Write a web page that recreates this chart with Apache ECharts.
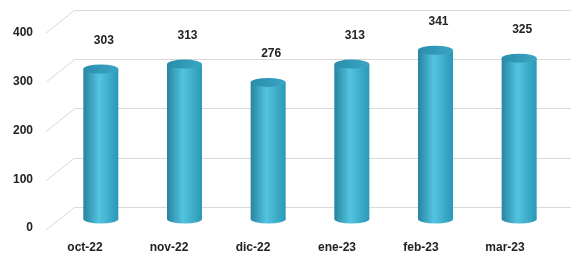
<!DOCTYPE html>
<html>
<head>
<meta charset="utf-8">
<script src="https://cdn.jsdelivr.net/npm/echarts@6/dist/echarts.min.js"></script>
<style>
  html, body { margin: 0; padding: 0; background: #fff; }
  #chart { width: 571px; height: 258px; }
</style>
</head>
<body>
<div id="chart"></div>
<script>
var months = ['oct-22', 'nov-22', 'dic-22', 'ene-23', 'feb-23', 'mar-23'];
var totals = [303, 313, 276, 313, 341, 325];
var yTicks = [0, 100, 200, 300, 400];

var chart = echarts.init(document.getElementById('chart'));

var bodyColor = new echarts.graphic.LinearGradient(0, 0, 1, 0, [
  { offset: 0, color: '#2784a0' },
  { offset: 0.45, color: '#53c4e0' },
  { offset: 1, color: '#2a98b6' }
]);
var topColor = new echarts.graphic.LinearGradient(0, 0, 1, 0, [
  { offset: 0, color: '#2a8cab' },
  { offset: 1, color: '#3aa6c4' }
]);
var labelFont = {
  fontFamily: 'Liberation Sans, Arial, sans-serif',
  fontWeight: 'bold',
  fontSize: 12,
  color: '#222'
};

var option = {
  backgroundColor: '#fff',
  animation: false,
  grid: [
    // bars
    { left: 59, right: 10, top: 21, bottom: 39 },
    // back wall
    { left: 75, right: 0, top: 10, bottom: 51 },
    // front edge (labels)
    { left: 43, right: 24, top: 33, bottom: 30 }
  ],
  xAxis: [
    { gridIndex: 0, type: 'category', data: months, show: false },
    { gridIndex: 1, type: 'value', min: 0, max: 1, show: false },
    {
      gridIndex: 2, type: 'category', data: months,
      axisLine: { show: false }, axisTick: { show: false },
      axisLabel: Object.assign({ margin: 14 }, labelFont)
    }
  ],
  yAxis: [
    { gridIndex: 0, type: 'value', min: 0, max: 400, show: false },
    {
      gridIndex: 1, type: 'value', min: 0, max: 400, interval: 100,
      axisLine: { show: false }, axisTick: { show: false },
      axisLabel: { show: false },
      splitLine: { lineStyle: { color: '#d9d9d9', width: 1 } }
    },
    {
      gridIndex: 2, type: 'value', min: 0, max: 400, interval: 100,
      axisLine: { show: false }, axisTick: { show: false },
      splitLine: { show: false },
      axisLabel: Object.assign({ margin: 10 }, labelFont)
    }
  ],
  series: [
    {
      // floor/side diagonals of the gridlines
      type: 'custom',
      xAxisIndex: 1,
      yAxisIndex: 1,
      silent: true,
      data: yTicks,
      renderItem: function (params, api) {
        var p = api.coord([0, api.value(0)]);
        return {
          type: 'line',
          shape: { x1: p[0], y1: p[1], x2: p[0] - 29, y2: p[1] + 23 },
          style: { stroke: '#d9d9d9', lineWidth: 1 }
        };
      }
    },
    {
      type: 'pictorialBar',
      xAxisIndex: 0,
      yAxisIndex: 0,
      symbol: 'circle',
      symbolSize: [35, 9],
      symbolPosition: 'start',
      symbolOffset: [0, '50%'],
      itemStyle: { color: bodyColor },
      z: 3,
      data: totals
    },
    {
      type: 'bar',
      xAxisIndex: 0,
      yAxisIndex: 0,
      barWidth: 35,
      itemStyle: { color: bodyColor },
      z: 4,
      data: totals
    },
    {
      type: 'pictorialBar',
      xAxisIndex: 0,
      yAxisIndex: 0,
      symbol: 'circle',
      symbolSize: [35, 9],
      symbolPosition: 'end',
      symbolOffset: [0, '-50%'],
      itemStyle: { color: topColor },
      z: 5,
      label: Object.assign({
        show: true,
        position: 'top',
        distance: 18,
        offset: [3, 0]
      }, labelFont),
      data: totals
    }
  ]
};

chart.setOption(option);
</script>
</body>
</html>
